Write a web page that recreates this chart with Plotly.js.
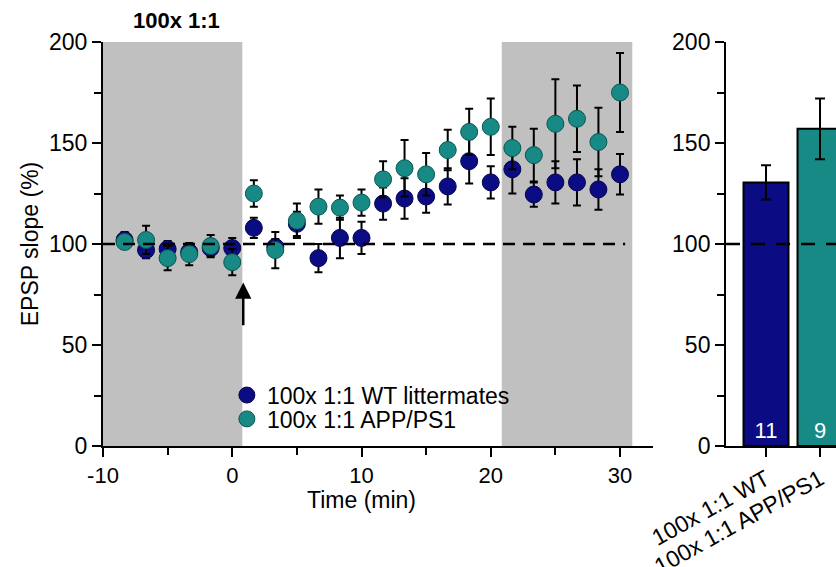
<!DOCTYPE html>
<html>
<head>
<meta charset="utf-8">
<script src="https://cdn.plot.ly/plotly-3.0.1.min.js"></script>
<style>html,body{margin:0;padding:0;background:#fff;}#chart{width:836px;height:567px;}</style>
</head>
<body>
<div id="chart"></div>
<script>
// ---- data ----
const timeMin = [-8.33,-6.67,-5,-3.33,-1.67,0,1.67,3.33,5,6.67,8.33,10,11.67,13.33,15,16.67,18.33,20,21.67,23.33,25,26.67,28.33,30];
const wtSlope = [102,97,97.5,96,98,98,108,98.5,110,93,103,103,120,122.5,123.5,128.5,141,130.5,137,124.5,130.5,130.5,127,134.5];
const wtErr   = [4,4,4,3,4,5,5,4,6,7,10,8,8,10,8,9,11,8,12,6,10.5,11.5,10,10];
const appSlope = [101,102,93,95,99,91,125,97,111.5,118.5,118,120.5,132,137.5,134.5,146.5,155.5,158,147.5,144,159.5,162,150.5,175];
const appErr   = [3,7,6,5.5,5.5,6.5,6.5,9,8.5,8.5,6,6.5,9,14,10.5,10,11.5,14,10.5,13,22,16.5,17,19.5];
const seriesNames = ["100x 1:1 WT littermates", "100x 1:1 APP/PS1"];

const barCategories = ["100x 1:1 WT", "100x 1:1 APP/PS1"];
const barValues = [130.5, 157];
const barErr = [8.5, 15];
const barN = ["11", "9"];

const xTickVals = [-10, 0, 10, 20, 30];
const xTickText = ["-10", "0", "10", "20", "30"];

const panelTitle = "100x 1:1";
const xTitle = "Time (min)";
const yTitle = "EPSP slope (%)";

// ---- styling ----
const NAVY = "#0b0b84", NAVY_D = "#05054a";
const TEAL = "#178a86", TEAL_D = "#0b5552";
const FONT = "Liberation Sans, Arial, sans-serif";
const FS = 23;

const traces = [
  {
    type: "scatter", mode: "markers", name: seriesNames[0], legend: "legend",
    x: timeMin, y: wtSlope, xaxis: "x", yaxis: "y",
    marker: {color: NAVY, size: 17, line: {color: NAVY_D, width: 1}},
    error_y: {type: "data", array: wtErr, visible: true, color: "#000", thickness: 2, width: 4}
  },
  {
    type: "scatter", mode: "markers", name: seriesNames[1], legend: "legend2",
    x: timeMin, y: appSlope, xaxis: "x", yaxis: "y",
    marker: {color: TEAL, size: 17, line: {color: TEAL_D, width: 1}},
    error_y: {type: "data", array: appErr, visible: true, color: "#000", thickness: 2, width: 4}
  },
  {
    type: "bar", x: barCategories, y: barValues, xaxis: "x2", yaxis: "y2",
    showlegend: false, width: 0.833,
    marker: {color: [NAVY, TEAL], line: {color: "#000", width: 2}},
    error_y: {type: "data", array: barErr, visible: true, color: "#000", thickness: 2, width: 5},
    text: barN, textposition: "inside", insidetextanchor: "start", textangle: 0,
    textfont: {color: "#ffffff", size: 22, family: FONT},
    cliponaxis: true
  }
];

const axisCommon = {
  showline: true, linecolor: "#000", linewidth: 2,
  ticks: "outside", ticklen: 9, tickwidth: 2, tickcolor: "#000",
  showgrid: false, zeroline: false,
  tickfont: {family: FONT, size: FS, color: "#000"}
};

const legendCommon = {
  x: 0.169, xanchor: "left", yanchor: "middle", bgcolor: "rgba(0,0,0,0)",
  font: {family: FONT, size: FS, color: "#000"}, itemwidth: 30
};

const layout = {
  width: 836, height: 567,
  margin: {l: 103, r: 0, t: 42, b: 121},
  paper_bgcolor: "#fff", plot_bgcolor: "rgba(0,0,0,0)",
  font: {family: FONT, size: FS, color: "#000"},
  showlegend: true,
  legend: Object.assign({}, legendCommon, {y: 0.126}),
  legend2: Object.assign({}, legendCommon, {y: 0.067}),
  xaxis: Object.assign({}, axisCommon, {
    domain: [0, 0.7503], range: [-10, 32.55], anchor: "y",
    tickmode: "array", tickvals: xTickVals, ticktext: xTickText,
    tickfont: {family: FONT, size: 22, color: "#000"},
    minor: {tickvals: [-5, 5, 15, 25], ticks: "outside", ticklen: 7, tickwidth: 2, tickcolor: "#000"}
  }),
  yaxis: Object.assign({}, axisCommon, {
    domain: [0, 1], range: [0, 200], anchor: "x", dtick: 50,
    minor: {dtick: 25, ticks: "outside", ticklen: 7, tickwidth: 2, tickcolor: "#000"},
    title: {text: yTitle, font: {family: FONT, size: FS, color: "#000"}, standoff: 4}
  }),
  xaxis2: Object.assign({}, axisCommon, {
    domain: [0.85, 1], anchor: "y2", type: "category", range: [-0.74, 1.296],
    tickangle: -29
  }),
  yaxis2: Object.assign({}, axisCommon, {
    domain: [0, 1], range: [0, 200], anchor: "x2", dtick: 50,
    minor: {dtick: 25, ticks: "outside", ticklen: 7, tickwidth: 2, tickcolor: "#000"}
  }),
  shapes: [
    {type: "rect", xref: "x", yref: "y", x0: -10, x1: 0.78, y0: 0, y1: 200, fillcolor: "#c0c0c0", line: {width: 0}, layer: "below"},
    {type: "rect", xref: "x", yref: "y", x0: 20.85, x1: 30.95, y0: 0, y1: 200, fillcolor: "#c0c0c0", line: {width: 0}, layer: "below"},
    {type: "line", xref: "x", yref: "y", x0: -10, x1: 30.4, y0: 100, y1: 100, line: {color: "#000", width: 2.5, dash: "12px,8px"}, layer: "above"},
    {type: "line", xref: "x2", yref: "y2", x0: -0.74, x1: 1.296, y0: 100, y1: 100, line: {color: "#000", width: 2.5, dash: "14px,11px"}, layer: "above"}
  ],
  annotations: [
    {text: "<b>" + panelTitle + "</b>", xref: "paper", yref: "paper", x: 0.0996, y: 1.054,
     xanchor: "center", yanchor: "middle", showarrow: false, font: {family: FONT, size: 22, color: "#000"}},
    {text: xTitle, xref: "x", yref: "paper", x: 10, y: -0.133, xanchor: "center", yanchor: "middle",
     showarrow: false, font: {family: FONT, size: FS, color: "#000"}},
    {text: "", xref: "x", yref: "y", x: 0.85, y: 81, axref: "x", ayref: "y", ax: 0.85, ay: 59,
     showarrow: true, arrowhead: 2, arrowsize: 1.3, arrowwidth: 2.5, arrowcolor: "#000"}
  ]
};

Plotly.newPlot("chart", traces, layout, {displayModeBar: false, staticPlot: true});
</script>
</body>
</html>
